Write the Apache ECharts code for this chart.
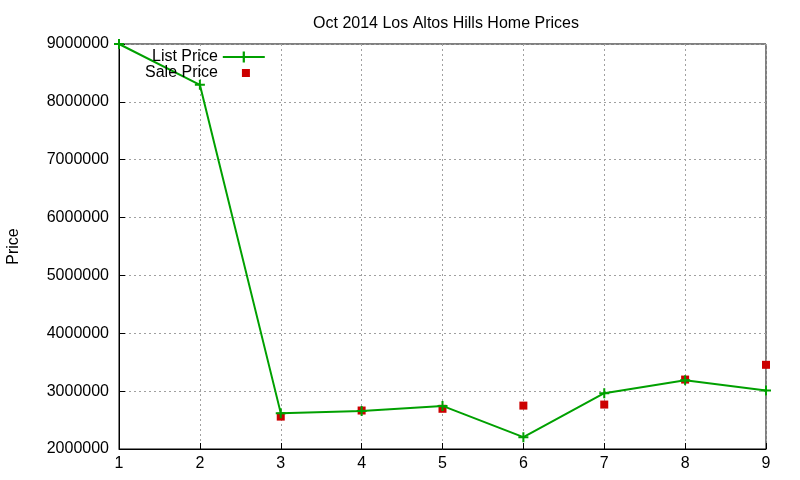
<!DOCTYPE html>
<html>
<head>
<meta charset="utf-8">
<script src="https://cdn.jsdelivr.net/npm/echarts@6/dist/echarts.min.js"></script>
<style>
  html, body { margin: 0; padding: 0; background: #fff; }
  #chart { width: 800px; height: 480px; }
</style>
</head>
<body>
<div id="chart"></div>
<script>
// data
const houses = [1, 2, 3, 4, 5, 6, 7, 8, 9]
const listPrice = [9000000, 8295000, 2620000, 2655000, 2745000, 2205000, 2965000, 3190000, 3010000]
const salePrice = [null, null, 2560000, 2665000, 2695000, 2750000, 2768000, 3200000, 3455000]

const plus = 'path://M4,0h2v10h-2z M0,4h10v2h-10z'
const font = 'Liberation Sans, Arial, sans-serif'

let chart = echarts.init(document.getElementById('chart'), null, { renderer: 'canvas' })

let option = {
  backgroundColor: '#fff',
  animation: false,
  title: {
    text: 'Oct 2014 Los Altos Hills Home Prices',
    left: 441,
    textAlign: 'center',
    top: 11,
    textStyle: { fontFamily: font, fontSize: 16, fontWeight: 'normal', color: '#000' }
  },
  legend: [{
    data: ['List Price'],
    left: 152,
    top: 49,
    padding: 0,
    align: 'right',
    itemWidth: 42,
    itemHeight: 14,
    textStyle: { fontFamily: font, fontSize: 16, color: '#000' }
  }, {
    data: ['Sale Price'],
    left: 145,
    top: 65,
    padding: 0,
    align: 'right',
    itemWidth: 8,
    itemHeight: 8,
    textStyle: { fontFamily: font, fontSize: 16, color: '#000', padding: [0, 19, 0, 0] }
  }],
  grid: {
    left: 119, right: 34, top: 44, bottom: 31,
    outerBoundsMode: 'none',
    containLabel: false,
    show: true, borderColor: '#000', borderWidth: 1
  },
  xAxis: {
    type: 'value',
    min: 1, max: 9, interval: 1,
    axisLine: { lineStyle: { color: '#000' } },
    axisTick: { inside: true, length: 6, lineStyle: { color: '#000' } },
    axisLabel: { fontFamily: font, fontSize: 16, color: '#000', margin: 7 },
    splitLine: { show: true, lineStyle: { color: '#a0a0a0', type: [2, 3] } }
  },
  yAxis: {
    type: 'value',
    min: 2000000, max: 9000000, interval: 1000000,
    name: 'Price',
    nameLocation: 'middle',
    nameGap: 97,
    nameTextStyle: { fontFamily: font, fontSize: 16, color: '#000' },
    axisLine: { show: true, lineStyle: { color: '#000' } },
    axisTick: { inside: true, length: 6, lineStyle: { color: '#000' } },
    axisLabel: { fontFamily: font, fontSize: 16, color: '#000', margin: 10, formatter: v => String(v) },
    splitLine: { show: true, lineStyle: { color: '#a0a0a0', type: [2, 3] } }
  },
  series: [{
    name: 'List Price',
    type: 'line',
    data: houses.map((h, i) => [h, listPrice[i]]),
    symbol: plus,
    symbolSize: 10,
    color: '#00a000',
    lineStyle: { width: 2, color: '#00a000' },
    itemStyle: { color: '#00a000' }
  }, {
    name: 'Sale Price',
    type: 'scatter',
    data: houses.map((h, i) => [h, salePrice[i]]).filter(d => d[1] !== null),
    symbol: 'rect',
    symbolSize: 8,
    itemStyle: { color: '#cc0000', opacity: 1 }
  }]
}

chart.setOption(option)
</script>
</body>
</html>
